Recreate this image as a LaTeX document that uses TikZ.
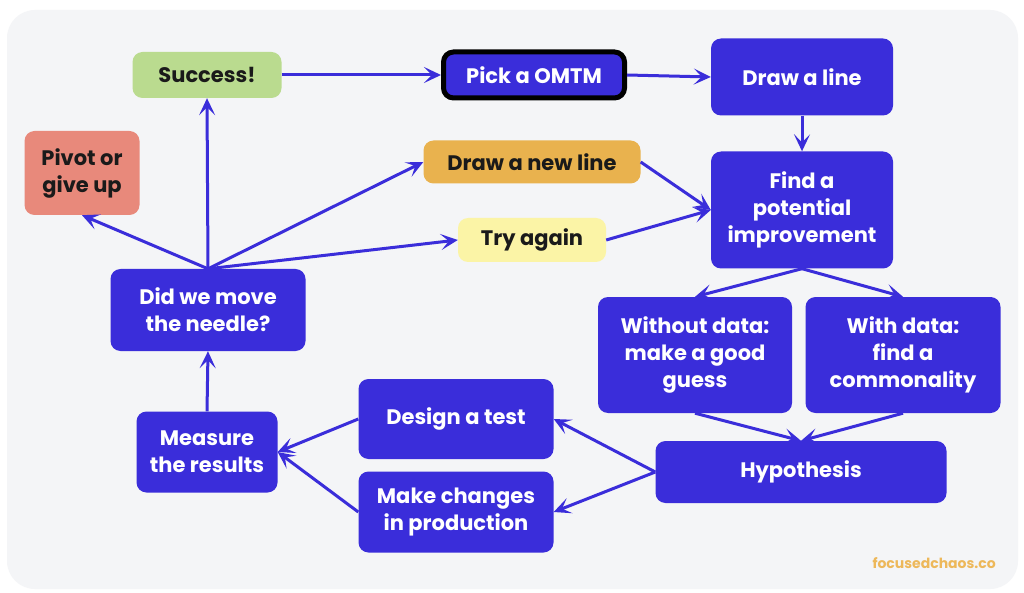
\documentclass[tikz,border=0pt]{standalone}
\usepackage{fontspec}
\setmainfont{Poppins}
\usetikzlibrary{arrows.meta}
\definecolor{myblue}{HTML}{3A2DDA}
\definecolor{bggray}{HTML}{F4F5F7}
\definecolor{mygreen}{HTML}{BADB8F}
\definecolor{myorange}{HTML}{E9B24E}
\definecolor{myyellow}{HTML}{FBF4A6}
\definecolor{mysalmon}{HTML}{E8897B}
\definecolor{darktext}{HTML}{1A1A1A}
\definecolor{brand}{HTML}{EDB85A}
\tikzset{
  box/.style={rectangle, rounded corners=10pt, fill=myblue, text=white, align=center, inner sep=0pt,
    font=\bfseries\fontsize{21}{27}\selectfont},
  lightbox/.style={box, text=darktext},
  conn/.style={draw=myblue, line width=3pt, -{Stealth[length=17pt,width=16pt,inset=8pt]}}
}
\begin{document}
\begin{tikzpicture}[x=1pt,y=-1pt]
\useasboundingbox (0,0) rectangle (1024,593);
\fill[white] (0,0) rectangle (1024,593);
\fill[bggray, rounded corners=28pt] (7,10) rectangle (1018,589);

\node[lightbox, fill=mygreen, minimum width=149pt, minimum height=46pt] (success) at (207,75) {Success!};
\node[box, draw=black, line width=5pt, minimum width=181pt, minimum height=46pt] (pick) at (534,75) {Pick a OMTM};
\node[box, minimum width=182pt, minimum height=77pt] (drawline) at (802,77) {Draw a line};
\node[box, minimum width=182pt, minimum height=117pt] (find) at (802,210) {Find a\\potential\\improvement};
\node[lightbox, fill=myorange, minimum width=217pt, minimum height=43pt] (newline) at (532,162) {Draw a new line};
\node[lightbox, fill=myyellow, minimum width=148pt, minimum height=44pt] (again) at (532,240) {Try again};
\node[lightbox, fill=mysalmon, minimum width=115pt, minimum height=84pt] (pivot) at (82,173) {Pivot or\\give up};
\node[box, minimum width=195pt, minimum height=82pt] (did) at (208,310) {Did we move\\the needle?};
\node[box, minimum width=141pt, minimum height=81pt] (measure) at (207,452) {Measure\\the results};
\node[box, minimum width=195pt, minimum height=80pt] (design) at (456,419) {Design a test};
\node[box, minimum width=195pt, minimum height=81pt] (make) at (456,512) {Make changes\\in production};
\node[box, minimum width=194pt, minimum height=116pt] (without) at (695,355) {Without data:\\make a good\\guess};
\node[box, minimum width=195pt, minimum height=116pt] (with) at (903,355) {With data:\\find a\\commonality};
\node[box, minimum width=291pt, minimum height=62pt] (hyp) at (801,472) {Hypothesis};
\node[anchor=east, text=brand, font=\fontsize{14}{16}\selectfont\bfseries, inner sep=0pt] (brand) at (996,563) {focusedchaos.co};

\draw[conn] (success.east) -- (pick.west);
\draw[conn] (pick.east) -- (drawline.west);
\draw[conn] (drawline.south) -- (find.north);
\draw[conn] (newline.east) -- (find.west);
\draw[conn] (again.east) -- (find.west);
\draw[conn] (find.south) -- (without.north);
\draw[conn] (find.south) -- (with.north);
\draw[conn] (without.south) -- (hyp.north);
\draw[conn] (with.south) -- (hyp.north);
\draw[conn] (hyp.west) -- (design.east);
\draw[conn] (hyp.west) -- (make.east);
\draw[conn] (design.west) -- (measure.east);
\draw[conn] (make.west) -- (measure.east);
\draw[conn] (measure.north) -- (did.south);
\draw[conn] (did.north) -- (success.south);
\draw[conn] (did.north) -- (pivot.south);
\draw[conn] (did.north) -- (newline.west);
\draw[conn] (did.north) -- (again.west);
\end{tikzpicture}
\end{document}
